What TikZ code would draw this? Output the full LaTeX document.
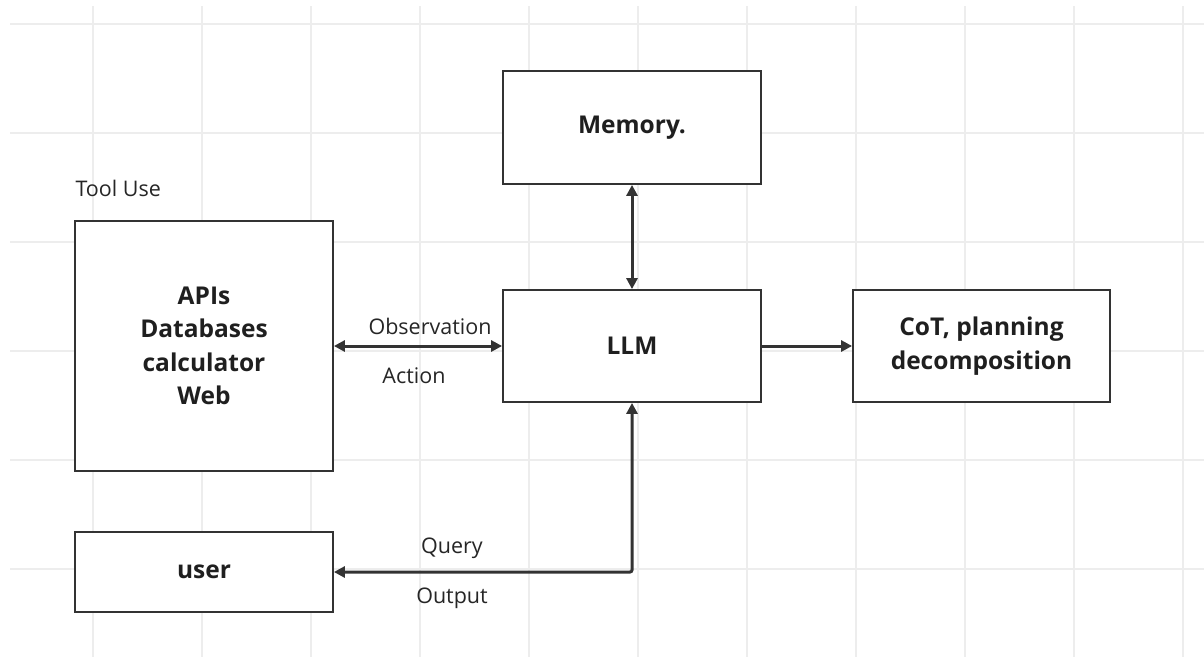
\documentclass[tikz,border=0pt]{standalone}
\usepackage{fontspec}
\setmainfont{Open Sans}
\usepackage{xcolor}
\usetikzlibrary{arrows.meta}
\definecolor{gridgray}{HTML}{EDEDED}
\definecolor{linegray}{HTML}{333333}
\begin{document}
\begin{tikzpicture}[x=1pt,y=-1pt,
  box/.style={draw=linegray,line width=1.8pt,fill=white,align=center,
    font=\fontsize{24.5}{33.5}\selectfont\bfseries,text=black!88},
  lbl/.style={font=\fontsize{21.5}{24}\selectfont,text=black!85},
  conn/.style={draw=linegray,line width=3pt,-{Triangle[length=11pt,width=11pt]}},
  dconn/.style={conn,{Triangle[length=11pt,width=11pt]}-{Triangle[length=11pt,width=11pt]}}]
\useasboundingbox (0,0) rectangle (1204,657);
\fill[white] (0,0) rectangle (1204,657);
\foreach \gx in {0,...,10}
  \draw[gridgray,line width=1.6pt] (93+109*\gx,6) -- (93+109*\gx,657);
\foreach \gy in {0,...,5}
  \draw[gridgray,line width=1.6pt] (10,24+109*\gy) -- (1204,24+109*\gy);
\node[box,minimum width=258,minimum height=113] (memory) at (632,127.5) {Memory.};
\node[box,minimum width=258,minimum height=250] (tools) at (204,346)
  {APIs\\Databases\\calculator\\Web};
\node[box,minimum width=258,minimum height=112] (llm) at (632,346) {LLM};
\node[box,minimum width=257,minimum height=112] (cot) at (981.5,346)
  {CoT, planning\\decomposition};
\node[box,minimum width=258,minimum height=80] (user) at (204,572) {user};
\node[lbl,anchor=west] (tooluse) at (72,188) {Tool Use};
\draw[dconn] (memory) -- (llm);
\draw[dconn] (tools) -- (llm);
\draw[conn] (llm) -- (cot);
\draw[dconn,rounded corners=2pt] (llm.south) |- (user.east);
\node[lbl] (obs) at (430,326) {Observation};
\node[lbl] (act) at (414,376) {Action};
\node[lbl] (query) at (452,548) {Query};
\node[lbl] (output) at (452,598) {Output};
\end{tikzpicture}
\end{document}
